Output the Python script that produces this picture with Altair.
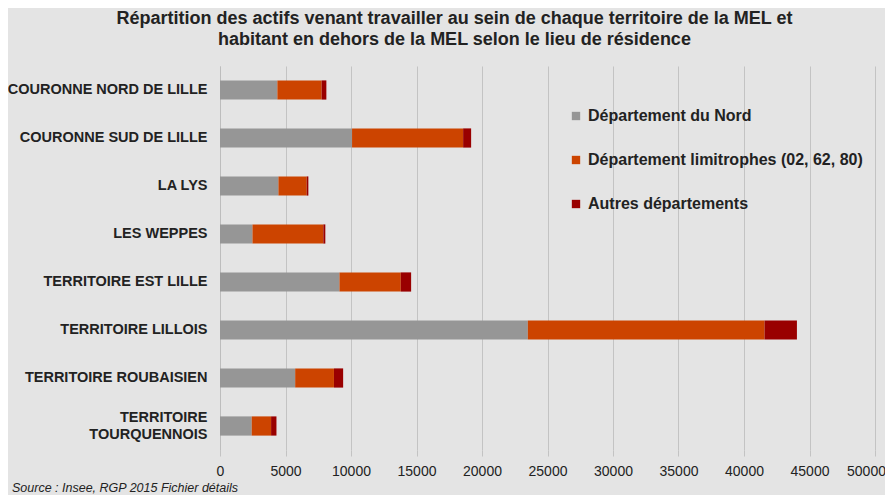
import altair as alt
import pandas as pd

territoires = [
    "COURONNE NORD DE LILLE",
    "COURONNE SUD DE LILLE",
    "LA LYS",
    "LES WEPPES",
    "TERRITOIRE EST LILLE",
    "TERRITOIRE LILLOIS",
    "TERRITOIRE ROUBAISIEN",
    "TERRITOIRE TOURQUENNOIS",
]
series = [
    "Département du Nord",
    "Département limitrophes (02, 62, 80)",
    "Autres départements",
]
nord = [4380, 10080, 4460, 2480, 9120, 23500, 5740, 2420]
limitrophes = [3380, 8480, 2160, 5410, 4680, 18070, 2960, 1480]
autres = [360, 610, 125, 150, 790, 2470, 700, 410]
colors = ["#969696", "#cc4400", "#990000"]
x_ticks = [0, 5000, 10000, 15000, 20000, 25000, 30000, 35000, 40000, 45000, 50000]

rows = []
for i, t in enumerate(territoires):
    for k, (s, vals) in enumerate(zip(series, [nord, limitrophes, autres])):
        rows.append({"territoire": t, "serie": s, "valeur": vals[i], "ordre": k})
df = pd.DataFrame(rows)

FONT = "Liberation Sans"
NB = "\u00a0" * 7

bars = alt.Chart(df).mark_bar().encode(
    y=alt.Y(
        "territoire:N",
        sort=territoires,
        title=None,
        scale=alt.Scale(paddingInner=0.6, paddingOuter=0.3),
        axis=alt.Axis(
            labelFont=FONT,
            labelFontSize=14.5,
            labelFontWeight="bold",
            labelColor="#222222",
            labelPadding=13,
            labelLimit=300,
            labelLineHeight=17,
            ticks=False,
            grid=False,
            domainColor="#bdbdbd",
            labelOffset={"condition": {"test": "datum.value == 'TERRITOIRE TOURQUENNOIS'", "value": -8}, "value": 0},
            labelExpr="datum.value == 'TERRITOIRE TOURQUENNOIS' ? ['TERRITOIRE" + NB + "', 'TOURQUENNOIS'] : datum.value",
        ),
    ),
    x=alt.X(
        "valeur:Q",
        stack="zero",
        title=None,
        scale=alt.Scale(domain=[0, 50000], nice=False),
        axis=alt.Axis(
            values=x_ticks,
            format="d",
            labelFont=FONT,
            labelFontSize=14,
            labelColor="#222222",
            labelPadding=8,
            labelOffset={"condition": {"test": "datum.value == 50000", "value": -9}, "value": 0},
            gridColor="#c3c3c3",
            gridWidth=1,
            tickColor="#c3c3c3",
            tickSize=6,
            domain=False,
            labelFlush=False,
        ),
    ),
    color=alt.Color(
        "serie:N",
        sort=series,
        scale=alt.Scale(domain=series, range=colors),
        legend=alt.Legend(
            title=None,
            orient="none",
            legendX=348,
            legendY=42,
            symbolType="square",
            symbolSize=70,
            symbolStrokeWidth=0,
            labelFont=FONT,
            labelFontSize=16,
            labelFontWeight="bold",
            labelColor="#222222",
            labelLimit=400,
            rowPadding=28,
            labelOffset=4,
        ),
    ),
    order=alt.Order("ordre:Q"),
)

source = alt.Chart(pd.DataFrame({"t": ["Source : Insee, RGP 2015 Fichier détails"]})).mark_text(
    align="left", baseline="middle", font=FONT, fontSize=12.5, fontStyle="italic", color="#222222"
).encode(text="t:N", x=alt.value(-208), y=alt.value(422))

chart = (
    alt.layer(bars, source)
    .properties(
        width=655,
        height=384,
        background="#e4e4e4",
        padding={"left": 212, "top": 58, "right": 10, "bottom": 45},
        autosize=alt.AutoSizeParams(type="none"),
        title=alt.TitleParams(
            text=[
                "Répartition des actifs venant travailler au sein de chaque territoire de la MEL et",
                "habitant en dehors de la MEL selon le lieu de résidence",
            ],
            font=FONT,
            fontSize=18,
            fontWeight="bold",
            color="#222222",
            anchor="middle",
            dx=-93,
            offset=17,
            lineHeight=21,
        ),
    )
    .configure_view(stroke=None)
)

chart.save("out.html", embed_options={"renderer": "svg", "actions": False})
